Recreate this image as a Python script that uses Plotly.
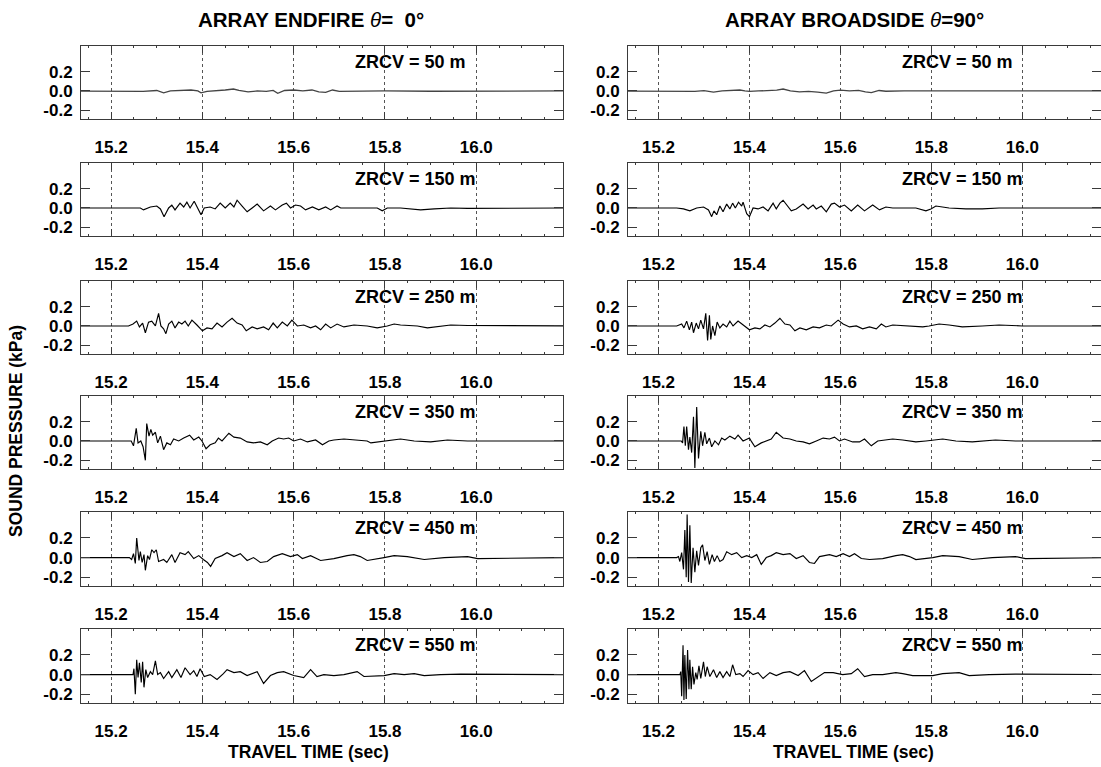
import plotly.graph_objects as go

# Receiver depths (m) for each row of panels
depths = [50, 150, 250, 350, 450, 550]

# Axis tick values
x_ticks = [15.2, 15.4, 15.6, 15.8, 16.0]
y_ticks = [-0.2, 0.0, 0.2]

# Sound pressure waveforms (travel time s, pressure kPa), endfire array (theta = 0 deg)
endfire_050 = [(15.10, 0.0), (15.25, 0.0), (15.27, -0.005), (15.30, 0.005), (15.315, -0.02), (15.33, 0.0),
               (15.36, 0.005), (15.375, 0.01), (15.39, 0.0), (15.397, -0.02), (15.41, -0.005), (15.43, 0.0),
               (15.45, 0.01), (15.468, 0.02), (15.48, 0.005), (15.50, -0.01), (15.52, 0.0), (15.54, -0.005),
               (15.555, 0.005), (15.565, -0.025), (15.58, 0.005), (15.60, 0.01), (15.62, 0.0), (15.64, 0.01),
               (15.655, -0.01), (15.67, -0.015), (15.685, 0.01), (15.70, -0.005), (15.74, 0.0), (15.80, 0.0),
               (15.90, -0.003), (16.20, 0.0)]

endfire_150 = [(15.10, 0.0), (15.264, 0.0), (15.271, -0.02), (15.286, 0.01), (15.300, 0.02), (15.308, -0.01),
               (15.316, -0.09), (15.326, 0.0), (15.333, 0.03), (15.340, -0.02), (15.351, 0.05), (15.359, 0.01),
               (15.366, 0.06), (15.373, 0.0), (15.382, 0.07), (15.391, -0.02), (15.397, -0.07), (15.404, 0.0),
               (15.417, 0.01), (15.428, -0.01), (15.439, 0.05), (15.450, 0.0), (15.461, 0.05), (15.469, 0.01),
               (15.476, 0.08), (15.487, 0.02), (15.498, -0.04), (15.509, 0.0), (15.520, 0.04), (15.534, -0.03),
               (15.549, 0.02), (15.560, -0.02), (15.575, 0.03), (15.584, 0.05), (15.593, 0.0), (15.604, 0.03),
               (15.615, 0.02), (15.626, -0.02), (15.641, 0.01), (15.655, -0.02), (15.670, 0.01), (15.681, -0.02),
               (15.695, 0.02), (15.703, 0.0), (15.761, 0.0), (15.783, 0.0), (15.794, -0.03), (15.805, 0.0),
               (15.834, 0.0), (15.878, -0.02), (15.908, -0.01), (15.944, 0.0), (15.981, -0.005), (16.20, 0.0)]

endfire_250 = [(15.10, 0.0), (15.238, 0.0), (15.248, 0.02), (15.256, 0.05), (15.262, -0.01), (15.269, 0.03),
               (15.275, -0.07), (15.282, 0.04), (15.289, 0.05), (15.297, 0.0), (15.304, 0.13), (15.309, 0.0),
               (15.315, -0.03), (15.320, -0.08), (15.326, 0.02), (15.333, 0.05), (15.340, -0.02), (15.348, 0.04),
               (15.355, 0.02), (15.362, 0.05), (15.369, 0.0), (15.377, 0.06), (15.388, 0.01), (15.400, -0.05),
               (15.410, -0.02), (15.421, -0.03), (15.432, 0.03), (15.443, -0.01), (15.454, 0.04), (15.465, 0.08),
               (15.476, 0.03), (15.487, 0.01), (15.496, -0.05), (15.509, -0.01), (15.520, -0.03), (15.534, -0.01),
               (15.545, -0.04), (15.555, 0.03), (15.564, -0.02), (15.575, 0.04), (15.586, 0.0), (15.596, 0.06),
               (15.608, 0.0), (15.622, 0.01), (15.637, -0.02), (15.648, 0.0), (15.659, -0.04), (15.670, 0.02),
               (15.681, -0.02), (15.695, 0.02), (15.710, -0.01), (15.732, 0.01), (15.761, 0.0), (15.783, -0.02),
               (15.805, 0.0), (15.820, 0.02), (15.834, 0.01), (15.871, 0.0), (15.893, -0.02), (15.922, 0.0),
               (15.944, 0.01), (15.981, 0.005), (16.20, 0.0)]

endfire_350 = [(15.10, 0.0), (15.244, 0.0), (15.249, -0.05), (15.255, 0.13), (15.259, -0.02), (15.265, 0.0),
               (15.270, -0.06), (15.275, -0.20), (15.278, 0.18), (15.283, 0.05), (15.287, 0.12), (15.291, 0.06),
               (15.297, 0.09), (15.302, -0.02), (15.308, 0.05), (15.315, -0.09), (15.322, -0.02), (15.330, -0.04),
               (15.337, 0.02), (15.348, 0.0), (15.359, 0.03), (15.372, 0.06), (15.381, 0.01), (15.392, 0.04),
               (15.399, 0.0), (15.408, -0.08), (15.417, -0.04), (15.428, -0.02), (15.435, 0.03), (15.443, 0.0),
               (15.458, 0.08), (15.469, 0.04), (15.483, 0.03), (15.498, -0.01), (15.512, -0.02), (15.527, -0.01),
               (15.542, -0.04), (15.553, 0.0), (15.567, 0.03), (15.578, 0.02), (15.589, 0.03), (15.600, 0.0),
               (15.615, 0.02), (15.630, -0.01), (15.648, 0.01), (15.663, -0.04), (15.677, 0.0), (15.688, 0.01),
               (15.710, 0.02), (15.732, 0.01), (15.761, 0.0), (15.769, -0.02), (15.798, 0.0), (15.834, 0.02),
               (15.864, 0.0), (15.900, -0.01), (15.937, 0.01), (15.981, 0.0), (16.20, 0.0)]

endfire_450 = [(15.10, 0.0), (15.240, 0.0), (15.245, -0.02), (15.249, 0.04), (15.253, -0.06), (15.256, 0.20),
               (15.261, -0.03), (15.264, 0.06), (15.268, -0.05), (15.272, 0.03), (15.275, -0.13), (15.280, 0.02),
               (15.284, -0.02), (15.289, 0.08), (15.294, 0.05), (15.299, 0.08), (15.304, -0.04), (15.315, -0.02),
               (15.322, -0.05), (15.333, 0.03), (15.340, -0.05), (15.351, 0.05), (15.362, 0.03), (15.369, 0.06),
               (15.381, -0.01), (15.392, 0.02), (15.402, -0.02), (15.411, -0.05), (15.418, -0.09), (15.428, -0.01),
               (15.443, 0.02), (15.454, 0.05), (15.469, 0.01), (15.483, 0.04), (15.498, -0.03), (15.512, 0.0),
               (15.527, -0.05), (15.542, -0.04), (15.556, 0.01), (15.575, 0.04), (15.593, 0.01), (15.608, 0.03),
               (15.619, -0.01), (15.637, 0.02), (15.659, -0.03), (15.688, -0.01), (15.717, 0.02), (15.732, 0.03),
               (15.746, 0.01), (15.761, -0.03), (15.798, 0.0), (15.820, 0.02), (15.849, 0.01), (15.886, -0.02),
               (15.930, 0.0), (15.981, 0.01), (16.003, -0.01), (16.20, 0.0)]

endfire_550 = [(15.10, 0.0), (15.248, 0.0), (15.250, 0.06), (15.253, -0.20), (15.256, 0.15), (15.259, -0.03),
               (15.262, 0.12), (15.266, -0.08), (15.269, 0.13), (15.272, -0.13), (15.276, 0.05), (15.280, -0.03),
               (15.286, 0.03), (15.291, 0.0), (15.297, 0.14), (15.302, 0.0), (15.308, 0.02), (15.315, -0.04),
               (15.326, 0.03), (15.333, -0.03), (15.344, 0.05), (15.353, -0.03), (15.362, 0.07), (15.373, 0.0),
               (15.381, 0.04), (15.388, -0.02), (15.395, 0.06), (15.404, -0.02), (15.417, 0.0), (15.432, -0.05),
               (15.446, 0.01), (15.454, 0.05), (15.469, 0.02), (15.483, 0.03), (15.498, -0.01), (15.520, 0.03),
               (15.534, -0.09), (15.549, -0.01), (15.564, 0.02), (15.578, 0.03), (15.600, -0.01), (15.622, -0.03),
               (15.637, 0.05), (15.651, -0.02), (15.666, 0.0), (15.688, -0.01), (15.710, 0.0), (15.739, 0.03),
               (15.754, -0.02), (15.798, -0.01), (15.820, 0.01), (15.842, 0.0), (15.864, 0.01), (15.886, -0.01),
               (15.922, 0.0), (15.966, 0.005), (16.20, 0.0)]

# Sound pressure waveforms, broadside array (theta = 90 deg)
broadside_050 = [(15.10, 0.0), (15.25, 0.0), (15.28, -0.005), (15.30, 0.003), (15.321, -0.012), (15.34, 0.0),
                 (15.36, 0.004), (15.379, 0.01), (15.39, 0.0), (15.40, -0.005), (15.42, 0.0), (15.44, 0.005),
                 (15.46, 0.008), (15.474, 0.02), (15.49, 0.0), (15.51, -0.01), (15.53, -0.005), (15.55, -0.012),
                 (15.569, -0.022), (15.585, 0.0), (15.60, 0.008), (15.62, 0.0), (15.64, 0.006), (15.655, -0.01),
                 (15.668, -0.018), (15.685, 0.005), (15.70, -0.003), (15.74, 0.0), (15.80, 0.0), (15.90, -0.002),
                 (16.20, 0.0)]

broadside_150 = [(15.10, 0.0), (15.240, 0.0), (15.255, -0.01), (15.269, -0.03), (15.284, 0.0), (15.299, 0.01),
                 (15.310, -0.02), (15.317, -0.09), (15.322, -0.03), (15.328, -0.07), (15.335, 0.02), (15.342, -0.04),
                 (15.350, 0.04), (15.357, -0.01), (15.363, 0.05), (15.369, 0.0), (15.376, 0.06), (15.383, 0.02),
                 (15.386, 0.06), (15.394, -0.06), (15.400, -0.09), (15.408, 0.0), (15.419, -0.01), (15.430, 0.01),
                 (15.441, -0.03), (15.452, 0.05), (15.459, -0.01), (15.467, 0.05), (15.474, 0.08), (15.483, 0.02),
                 (15.492, -0.03), (15.503, -0.01), (15.518, 0.04), (15.529, -0.01), (15.540, 0.03), (15.547, -0.01),
                 (15.558, 0.02), (15.569, -0.04), (15.580, 0.04), (15.587, 0.05), (15.598, 0.01), (15.609, 0.03),
                 (15.624, -0.03), (15.638, 0.03), (15.653, -0.03), (15.671, 0.03), (15.686, -0.02), (15.700, 0.01),
                 (15.715, 0.0), (15.766, 0.0), (15.788, -0.03), (15.799, -0.01), (15.810, 0.02), (15.839, 0.0),
                 (15.876, -0.01), (15.912, -0.01), (15.949, 0.0), (16.20, 0.0)]

broadside_250 = [(15.10, 0.0), (15.240, 0.0), (15.251, 0.02), (15.256, -0.02), (15.262, 0.05), (15.268, -0.04),
                 (15.273, 0.04), (15.277, -0.07), (15.283, 0.03), (15.288, -0.03), (15.293, 0.06), (15.299, -0.03),
                 (15.304, 0.13), (15.308, -0.15), (15.312, 0.11), (15.315, -0.14), (15.319, 0.0), (15.324, -0.10),
                 (15.329, 0.04), (15.335, -0.02), (15.342, 0.02), (15.350, -0.01), (15.357, 0.05), (15.364, 0.0),
                 (15.375, 0.05), (15.386, 0.01), (15.400, -0.04), (15.412, -0.02), (15.423, -0.03), (15.434, 0.01),
                 (15.445, -0.01), (15.456, 0.03), (15.467, 0.08), (15.478, 0.02), (15.489, 0.01), (15.500, -0.05),
                 (15.511, -0.02), (15.525, -0.04), (15.540, -0.01), (15.554, -0.02), (15.569, 0.01), (15.580, 0.0),
                 (15.595, 0.06), (15.606, 0.02), (15.620, -0.01), (15.635, 0.0), (15.649, -0.03), (15.664, -0.01),
                 (15.679, -0.03), (15.690, 0.02), (15.700, -0.01), (15.715, 0.01), (15.766, 0.0), (15.781, -0.01),
                 (15.795, 0.0), (15.817, 0.02), (15.839, 0.01), (15.868, -0.01), (15.912, 0.0), (15.949, 0.01),
                 (16.000, 0.0), (16.20, 0.0)]

broadside_350 = [(15.10, 0.0), (15.250, 0.0), (15.253, -0.02), (15.256, 0.15), (15.259, -0.05), (15.262, 0.15),
                 (15.266, -0.09), (15.269, 0.04), (15.273, -0.12), (15.277, 0.25), (15.280, -0.28), (15.284, 0.35),
                 (15.288, -0.18), (15.293, 0.10), (15.297, -0.05), (15.302, 0.09), (15.306, -0.03), (15.312, 0.03),
                 (15.317, -0.06), (15.324, 0.0), (15.332, -0.04), (15.339, 0.03), (15.346, 0.01), (15.357, 0.05),
                 (15.368, 0.02), (15.375, 0.06), (15.386, 0.0), (15.400, 0.03), (15.405, -0.01), (15.412, -0.06),
                 (15.426, -0.02), (15.437, 0.0), (15.448, 0.02), (15.459, 0.09), (15.474, 0.03), (15.489, 0.02),
                 (15.503, 0.0), (15.518, -0.01), (15.532, -0.03), (15.547, 0.0), (15.562, 0.03), (15.576, 0.02),
                 (15.587, 0.04), (15.598, 0.0), (15.609, 0.02), (15.627, -0.01), (15.642, -0.01), (15.653, 0.02),
                 (15.668, -0.05), (15.682, 0.0), (15.700, 0.01), (15.715, 0.02), (15.737, 0.01), (15.766, -0.01),
                 (15.788, 0.0), (15.825, 0.02), (15.854, 0.0), (15.890, -0.01), (15.941, 0.01), (15.985, 0.0),
                 (16.20, 0.0)]

broadside_450 = [(15.10, 0.0), (15.240, 0.0), (15.244, 0.01), (15.247, -0.04), (15.251, 0.05), (15.255, -0.12),
                 (15.258, 0.28), (15.261, -0.20), (15.263, 0.44), (15.266, -0.25), (15.269, 0.33), (15.272, -0.26),
                 (15.276, 0.10), (15.280, -0.15), (15.284, 0.07), (15.288, -0.08), (15.293, 0.10), (15.297, 0.13),
                 (15.302, -0.03), (15.307, 0.06), (15.312, -0.07), (15.318, 0.03), (15.323, -0.04), (15.329, 0.02),
                 (15.335, -0.04), (15.342, -0.02), (15.350, 0.06), (15.361, 0.03), (15.372, 0.05), (15.383, 0.0),
                 (15.394, 0.02), (15.405, 0.0), (15.416, 0.03), (15.426, -0.07), (15.437, 0.0), (15.448, 0.02),
                 (15.459, 0.05), (15.474, 0.03), (15.489, 0.04), (15.503, -0.01), (15.518, 0.02), (15.532, -0.05),
                 (15.543, -0.06), (15.554, 0.01), (15.576, 0.03), (15.591, 0.01), (15.606, 0.04), (15.620, 0.01),
                 (15.631, 0.04), (15.646, -0.01), (15.664, -0.02), (15.693, -0.01), (15.722, 0.02), (15.737, 0.03),
                 (15.752, 0.01), (15.766, -0.02), (15.803, 0.0), (15.825, 0.02), (15.861, 0.01), (15.890, -0.02),
                 (15.934, 0.0), (15.985, 0.01), (16.007, -0.01), (16.20, 0.0)]

broadside_550 = [(15.10, 0.0), (15.247, 0.0), (15.249, 0.03), (15.251, -0.22), (15.254, 0.30), (15.256, -0.26),
                 (15.258, 0.20), (15.261, -0.25), (15.264, 0.25), (15.267, -0.15), (15.269, 0.15), (15.272, -0.15),
                 (15.275, 0.08), (15.278, -0.10), (15.282, 0.02), (15.285, -0.05), (15.289, 0.09), (15.293, -0.04),
                 (15.299, 0.13), (15.303, -0.02), (15.307, 0.08), (15.313, -0.02), (15.321, 0.05), (15.328, -0.03),
                 (15.335, 0.03), (15.342, -0.03), (15.350, 0.03), (15.357, -0.02), (15.363, 0.10), (15.370, 0.0),
                 (15.379, 0.01), (15.386, -0.02), (15.397, 0.04), (15.408, 0.0), (15.419, 0.02), (15.430, -0.04),
                 (15.445, 0.02), (15.459, -0.01), (15.474, 0.02), (15.489, 0.03), (15.507, -0.01), (15.521, 0.04),
                 (15.536, -0.07), (15.551, -0.02), (15.565, 0.02), (15.584, 0.02), (15.605, 0.0), (15.624, 0.01),
                 (15.638, 0.06), (15.653, -0.02), (15.671, 0.0), (15.693, 0.0), (15.722, 0.02), (15.737, 0.01),
                 (15.759, -0.01), (15.803, -0.01), (15.825, 0.01), (15.861, 0.02), (15.883, -0.01), (15.927, 0.0),
                 (15.985, 0.005), (16.20, 0.0)]

endfire = [endfire_050, endfire_150, endfire_250, endfire_350, endfire_450, endfire_550]
broadside = [broadside_050, broadside_150, broadside_250, broadside_350, broadside_450, broadside_550]

# ---- page geometry (pixels) ----
W, H = 1101, 767
col_px = [(81, 563), (628, 1101)]
x_ranges = [(15.134, 16.19), (15.133, 16.173)]
row_px = [(46, 119), (163, 236), (281, 354), (396, 469), (512, 586), (629, 703)]
y_range = [-0.29, 0.465]

FONT = "Liberation Sans, Arial, Helvetica, sans-serif"
AX = "#3a3a3a"


def bold(s):
    return f"<b>{s}</b>"


fig = go.Figure()
layout = dict(
    width=W, height=H,
    margin=dict(l=0, r=0, t=0, b=0),
    paper_bgcolor="white", plot_bgcolor="white",
    showlegend=False,
    font=dict(family=FONT, color="black", size=17),
)
annotations = []

for r, depth in enumerate(depths):
    for c, series in enumerate([endfire, broadside]):
        idx = r * 2 + c + 1
        xn = "x" if idx == 1 else f"x{idx}"
        yn = "y" if idx == 1 else f"y{idx}"
        xk = "xaxis" if idx == 1 else f"xaxis{idx}"
        yk = "yaxis" if idx == 1 else f"yaxis{idx}"
        x0, x1 = col_px[c]
        top, bot = row_px[r]

        pts = series[r]
        fig.add_trace(go.Scatter(
            x=[p[0] for p in pts], y=[p[1] for p in pts],
            mode="lines",
            line=dict(color="#444444" if r == 0 else "black", width=1.3 if r == 0 else 1.15),
            xaxis=xn, yaxis=yn, hoverinfo="skip",
        ))

        layout[xk] = dict(
            domain=[x0 / W, x1 / W], range=list(x_ranges[c]), anchor=yn,
            tickvals=x_ticks, ticktext=[bold(f"{v:.1f}") for v in x_ticks],
            ticks="inside", ticklen=7, tickcolor=AX, tickwidth=1,
            mirror="ticks", showline=True, linecolor=AX, linewidth=1,
            showgrid=True, gridcolor="#555555", gridwidth=1, griddash="3px,3px",
            zeroline=False, ticklabelstandoff=13,
            tickfont=dict(size=17, family=FONT, color="black"),
            minor=dict(dtick=0.05, tick0=15.0, ticks="inside", ticklen=2,
                       tickcolor=AX, showgrid=False),
        )
        layout[yk] = dict(
            domain=[1 - bot / H, 1 - top / H], range=y_range, anchor=xn,
            tickvals=y_ticks, ticktext=[bold(t) for t in ["-0.2", "0.0", "0.2"]],
            ticks="inside", ticklen=9, tickcolor=AX, tickwidth=1,
            mirror="ticks", showline=True, linecolor=AX, linewidth=1,
            showgrid=False, zeroline=False, ticklabelstandoff=4,
            tickfont=dict(size=17, family=FONT, color="black"),
        )

        annotations.append(dict(
            text=bold(f"ZRCV = {depth} m"), x=15.73, y=0.30, xref=xn, yref=yn,
            xanchor="left", yanchor="middle", showarrow=False,
            font=dict(size=18, family=FONT, color="black"),
        ))

# Column titles
annotations.append(dict(text="<b>ARRAY ENDFIRE</b> <i>θ</i><b>=&nbsp;&nbsp;0°</b>", x=311 / W, y=1 - 20 / H,
                        xref="paper", yref="paper", xanchor="center", yanchor="middle",
                        showarrow=False, font=dict(size=20.5, family=FONT, color="black")))
annotations.append(dict(text="<b>ARRAY BROADSIDE</b> <i>θ</i><b>=90°</b>", x=854 / W, y=1 - 20 / H,
                        xref="paper", yref="paper", xanchor="center", yanchor="middle",
                        showarrow=False, font=dict(size=20.5, family=FONT, color="black")))

# Shared axis titles
annotations.append(dict(text=bold("SOUND PRESSURE (kPa)"), x=16 / W, y=1 - 431 / H,
                        xref="paper", yref="paper", xanchor="center", yanchor="middle",
                        textangle=-90, showarrow=False,
                        font=dict(size=17.5, family=FONT, color="black")))
for cx in (308, 853):
    annotations.append(dict(text=bold("TRAVEL TIME (sec)"), x=cx / W, y=1 - 752 / H,
                            xref="paper", yref="paper", xanchor="center", yanchor="middle",
                            showarrow=False, font=dict(size=17.5, family=FONT, color="black")))

layout["annotations"] = annotations
fig.update_layout(**layout)
fig.write_html("out.html")
